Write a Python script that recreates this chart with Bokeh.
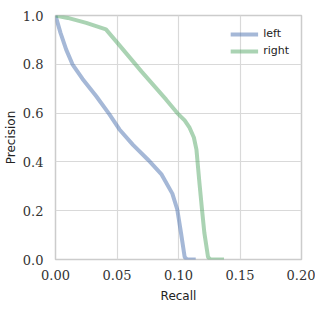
from bokeh.plotting import figure
from bokeh.embed import file_html
from bokeh.resources import INLINE
from bokeh.models import FixedTicker, Range1d, CustomJSTickFormatter

# data
left_recall = [0.0, 0.004, 0.0087, 0.0138, 0.022, 0.033, 0.044, 0.052, 0.063, 0.075, 0.086, 0.095, 0.099, 0.102, 0.105, 0.107, 0.114]
left_precision = [1.0, 0.93, 0.86, 0.80, 0.74, 0.67, 0.594, 0.533, 0.47, 0.41, 0.35, 0.27, 0.205, 0.11, 0.01, 0.0, 0.0]
right_recall = [0.0, 0.01, 0.025, 0.041, 0.05, 0.07, 0.09, 0.099, 0.105, 0.109, 0.1125, 0.1146, 0.117, 0.119, 0.121, 0.124, 0.126, 0.137]
right_precision = [1.0, 0.99, 0.97, 0.943, 0.89, 0.77, 0.655, 0.60, 0.57, 0.54, 0.50, 0.45, 0.315, 0.21, 0.11, 0.01, 0.0, 0.0]
x_ticks = [0.0, 0.05, 0.10, 0.15, 0.20]
y_ticks = [0.0, 0.2, 0.4, 0.6, 0.8, 1.0]

p = figure(width=308, height=300, output_backend="svg", toolbar_location=None,
           x_range=Range1d(0, 0.2), y_range=Range1d(0, 1.0),
           min_border_left=48, min_border_right=14, min_border_top=15, min_border_bottom=41)
p.frame_width = 246
p.frame_height = 244

p.line(left_recall, left_precision, line_width=4, color="#4c72b0", line_alpha=0.5, legend_label="left")
p.line(right_recall, right_precision, line_width=4, color="#55a868", line_alpha=0.5, legend_label="right")

p.xaxis.ticker = FixedTicker(ticks=x_ticks)
p.yaxis.ticker = FixedTicker(ticks=y_ticks)
p.xaxis.formatter = CustomJSTickFormatter(code="return tick.toFixed(2);")
p.yaxis.formatter = CustomJSTickFormatter(code="return tick.toFixed(1);")

for ax in (p.xaxis[0], p.yaxis[0]):
    ax.axis_line_color = None
    ax.major_tick_line_color = None
    ax.minor_tick_line_color = None
    ax.major_label_text_font = "DejaVu Serif"
    ax.major_label_text_font_size = "13px"
    ax.major_label_text_color = "#333333"
    ax.axis_label_text_font = "DejaVu Sans"
    ax.axis_label_text_font_size = "12px"
    ax.axis_label_text_font_style = "normal"
    ax.axis_label_text_color = "#222222"

p.xaxis.axis_label = "Recall"
p.yaxis.axis_label = "Precision"
p.xaxis.major_label_standoff = 4
p.yaxis.major_label_standoff = 6
p.xaxis.axis_label_standoff = 6
p.yaxis.axis_label_standoff = 2

p.xgrid.grid_line_color = "#d9d9d9"
p.ygrid.grid_line_color = "#d9d9d9"
p.xgrid.grid_line_width = 1.2
p.ygrid.grid_line_width = 1.2
p.outline_line_color = "#cccccc"
p.outline_line_width = 1.5

p.legend.location = "top_right"
p.legend.border_line_color = None
p.legend.background_fill_alpha = 0
p.legend.label_text_font = "DejaVu Sans"
p.legend.label_text_font_size = "11px"
p.legend.label_text_color = "#222222"
p.legend.glyph_width = 28
p.legend.glyph_height = 12
p.legend.label_height = 12
p.legend.spacing = 4
p.legend.margin = 12
p.legend.padding = 4

open("out.html", "w").write(file_html(p, INLINE))
